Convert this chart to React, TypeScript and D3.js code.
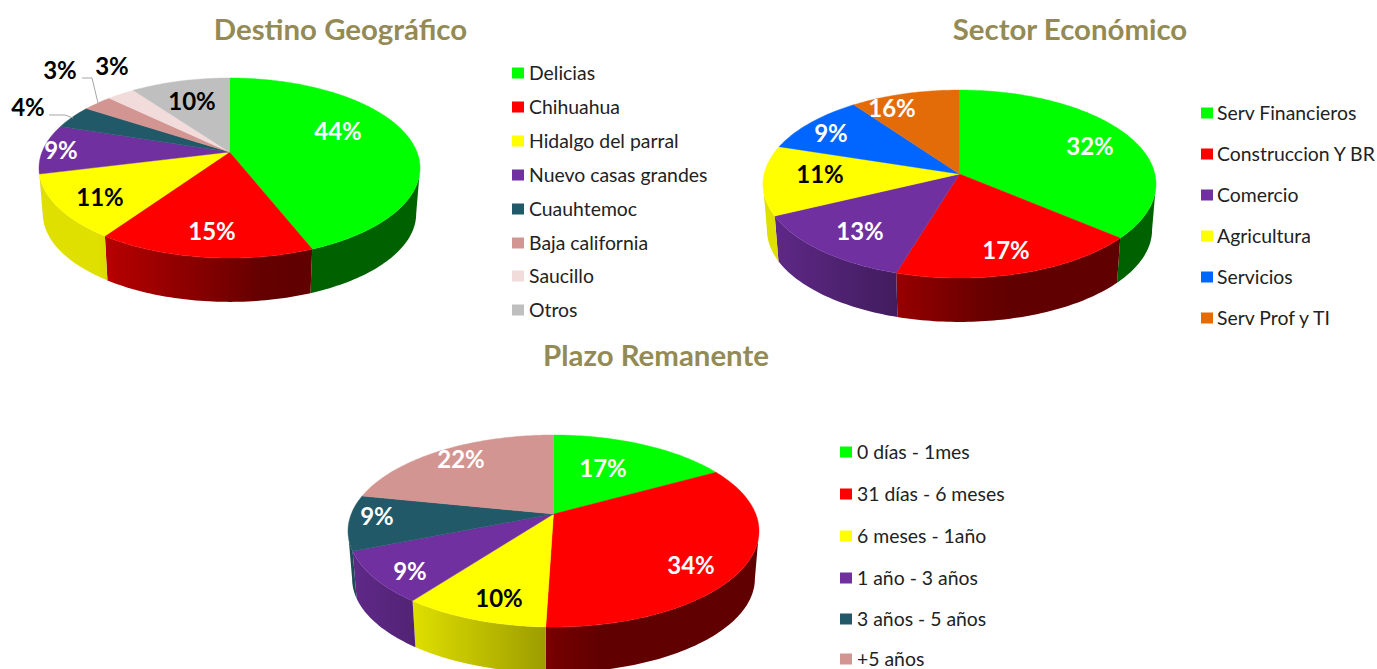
import React from "react";
import * as d3 from "d3";

// ---------- data ----------
const destinoNames = ["Delicias", "Chihuahua", "Hidalgo del parral", "Nuevo casas grandes", "Cuauhtemoc", "Baja california", "Saucillo", "Otros"];
const destinoShares = [44, 15.6, 11.5, 8.9, 4.2, 3, 2.8, 10];
const destinoLabels = ["44%", "15%", "11%", "9%", "4%", "3%", "3%", "10%"];

const sectorNames = ["Serv Financieros", "Construccion Y BR", "Comercio", "Agricultura", "Servicios", "Serv Prof y TI"];
const sectorShares = [36.1, 18.6, 13.2, 12, 10.1, 10];
const sectorLabels = ["32%", "17%", "13%", "11%", "9%", "16%"];

const plazoNames = ["0 días - 1mes", "31 días - 6 meses", "6 meses - 1año", "1 año - 3 años", "3 años - 5 años", "+5 años"];
const plazoShares = [16.9, 33.6, 9.7, 8.7, 9.3, 21.8];
const plazoLabels = ["17%", "34%", "10%", "9%", "9%", "22%"];

// ---------- style ----------
const GREEN = "#00ff00", RED = "#ff0000", YELLOW = "#ffff00", PURPLE = "#7030a0", TEAL = "#215968",
  ROSE = "#d39592", BLUSH = "#f2dcdb", GRAY = "#bfbfbf", BLUE = "#0066ff", ORANGE = "#e36c09";
const FONT = "Lato, Carlito, sans-serif";

type Cfg = {
  id: string; title: string; titleX: number; titleY: number;
  names: string[]; shares: number[]; labels: string[]; colors: string[]; labelColors: string[];
  cx: number; cy: number; rx: number; up: number; down: number; depth: number;
  labelPos: [number, number][];
  swatchX: number; textX: number; legendY: number[];
};

const charts: Cfg[] = [
  {
    id: "a", title: "Destino Geográfico", titleX: 340.5, titleY: 39.5,
    names: destinoNames, shares: destinoShares, labels: destinoLabels,
    colors: [GREEN, RED, YELLOW, PURPLE, TEAL, ROSE, BLUSH, GRAY],
    labelColors: ["#fff", "#fff", "#000", "#fff", "#000", "#000", "#000", "#000"],
    cx: 229.5, cy: 152, rx: 190.5, up: 74, down: 106, depth: 46,
    labelPos: [[338, 131], [212, 231], [100, 197], [61, 150], [28, 107], [60, 70], [112, 66], [192, 101]],
    swatchX: 512, textX: 529, legendY: [73, 107, 141, 175, 209, 243, 276, 310],
  },
  {
    id: "b", title: "Sector Económico", titleX: 1070, titleY: 39.5,
    names: sectorNames, shares: sectorShares, labels: sectorLabels,
    colors: [GREEN, RED, PURPLE, YELLOW, BLUE, ORANGE],
    labelColors: ["#fff", "#fff", "#fff", "#000", "#fff", "#fff"],
    cx: 959.5, cy: 174, rx: 196.5, up: 84, down: 104, depth: 46,
    labelPos: [[1090, 146], [1006, 250], [860, 231], [820, 174], [831, 133], [892, 108]],
    swatchX: 1201, textX: 1217, legendY: [113, 154, 195, 236, 277, 318],
  },
  {
    id: "c", title: "Plazo Remanente", titleX: 656, titleY: 365.5,
    names: plazoNames, shares: plazoShares, labels: plazoLabels,
    colors: [GREEN, RED, YELLOW, PURPLE, TEAL, ROSE],
    labelColors: ["#fff", "#fff", "#000", "#fff", "#fff", "#fff"],
    cx: 553.5, cy: 514, rx: 205.5, up: 79, down: 113, depth: 48,
    labelPos: [[603, 468], [691, 565], [499, 598], [410, 571], [377, 516], [461, 459]],
    swatchX: 840, textX: 857, legendY: [452, 494, 536, 578, 619, 659],
  },
];

const leaders: [number, number][][] = [
  [[49, 115], [65, 115], [73, 118]],
  [[82, 78], [92, 78], [98, 103]],
];

// perspective projection of a unit circle
function projector(c: Cfg) {
  const k = (c.down / c.up - 1) / (c.down / c.up + 1);
  const B = c.up * (1 + k);
  const A = c.rx * Math.sqrt(1 - k * k);
  const P = (a: number): [number, number] => {
    const u = Math.sin(a), v = Math.cos(a);
    const w = 1 / (1 + k * v);
    return [c.cx + A * u * w, c.cy - B * v * w];
  };
  // the rim's widest points bound the visible part of the side wall
  return { P, sideStart: Math.acos(-k), sideEnd: 2 * Math.PI - Math.acos(-k) };
}

const sampleAngles = (a0: number, a1: number) => {
  const n = Math.max(2, Math.ceil((a1 - a0) / 0.02));
  return d3.range(n + 1).map((i) => a0 + ((a1 - a0) * i) / n);
};

const line = d3.line();
const SCALE_BOTTOM = 0.98;

function shadeOf(color: string, t: number) {
  const extra = color === YELLOW ? 0.14 : 0;
  const f = Math.min(0.88, Math.max(0.38 + extra, 0.38 + extra + (0.2 - t) * 0.4));
  const c = d3.rgb(color);
  return d3.rgb(c.r * f, c.g * f, c.b * f).formatRgb();
}

function Pie({ c }: { c: Cfg }) {
  const { P, sideStart, sideEnd } = projector(c);
  const arcs = d3.pie<number>().sort(null).startAngle(0).endAngle(2 * Math.PI)(c.shares);
  const bottom = (a: number): [number, number] => {
    const [x, y] = P(a);
    return [c.cx + (x - c.cx) * SCALE_BOTTOM, c.cy + (y - c.cy) * SCALE_BOTTOM + c.depth];
  };
  const sides = arcs.flatMap((s, i) => {
    const a0 = Math.max(s.startAngle, sideStart), a1 = Math.min(s.endAngle, sideEnd);
    if (a1 <= a0) return [];
    const angles = sampleAngles(a0, a1);
    const topRim = angles.map((a) => P(a));
    const botRim = angles.map((a) => bottom(a)).reverse();
    const [x0, x1] = d3.extent(topRim, (p) => p[0]) as [number, number];
    const stops = d3.range(9).map((j) => {
      const x = x0 + ((x1 - x0) * j) / 8;
      return { o: j / 8, col: shadeOf(c.colors[i], (x - c.cx) / c.rx) };
    });
    return [{ i, d: line([...topRim, ...botRim])! + "Z", x0, x1, stops }];
  });
  return (
    <g>
      <defs>
        {sides.map((s) => (
          <linearGradient key={s.i} id={`${c.id}-g${s.i}`} gradientUnits="userSpaceOnUse" x1={s.x0} x2={s.x1} y1={0} y2={0}>
            {s.stops.map((st) => <stop key={st.o} offset={st.o} stopColor={st.col} />)}
          </linearGradient>
        ))}
      </defs>
      {sides.map((s) => (
        <path key={s.i} d={s.d} fill={`url(#${c.id}-g${s.i})`} />
      ))}
      {arcs.map((s, i) => {
        const pts = [[c.cx, c.cy] as [number, number], ...sampleAngles(s.startAngle, s.endAngle).map((a) => P(a))];
        return <path key={i} d={line(pts)! + "Z"} fill={c.colors[i]} stroke={c.colors[i]} strokeWidth={0.4} />;
      })}
      {c.labels.map((t, i) => (
        <text key={i} x={c.labelPos[i][0]} y={c.labelPos[i][1]} dy="0.36em" textAnchor="middle"
          fontFamily={FONT} fontWeight={700} fontSize={24} fill={c.labelColors[i]}>{t}</text>
      ))}
      <text x={c.titleX} y={c.titleY} textAnchor="middle" fontFamily={FONT} fontWeight={700} fontSize={29.4} fill="#948a54">{c.title}</text>
      {c.names.map((n, i) => (
        <g key={n}>
          <rect x={c.swatchX} y={c.legendY[i] - 5.5} width={12} height={11} fill={c.colors[i]} />
          <text x={c.textX} y={c.legendY[i]} dy="0.35em" fontFamily={FONT} fontSize={19.4} fill="#222">{n}</text>
        </g>
      ))}
    </g>
  );
}

export default function App() {
  return (
    <svg width={1377} height={669} viewBox="0 0 1377 669" style={{ position: "absolute", left: 0, top: 0, display: "block", background: "#fff" }}>
      {charts.map((c) => <Pie key={c.id} c={c} />)}
      {leaders.map((l, i) => (
        <path key={i} d={line(l)!} fill="none" stroke="#a6a6a6" strokeWidth={1} />
      ))}
    </svg>
  );
}
